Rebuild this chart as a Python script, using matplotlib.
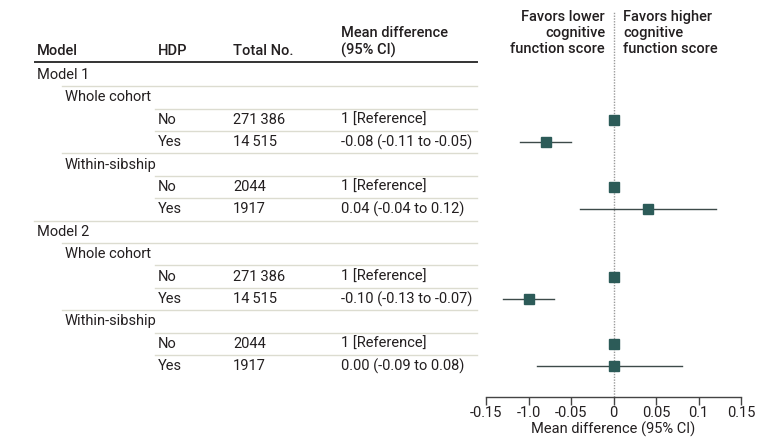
import matplotlib
matplotlib.use("Agg")
import matplotlib.pyplot as plt
from matplotlib import font_manager

names = {f.name for f in font_manager.fontManager.ttflist}
FONT = "Liberation Sans Narrow" if "Liberation Sans Narrow" in names else "Roboto"
plt.rcParams["font.family"] = [FONT, "DejaVu Sans"]

# table rows: (label, indent level, hdp, total, mean diff text)
labels = ["Model 1", "Whole cohort", "", "", "Within-sibship", "", "",
          "Model 2", "Whole cohort", "", "", "Within-sibship", "", ""]
levels = [0, 1, 2, 2, 1, 2, 2, 0, 1, 2, 2, 1, 2, 2]
hdp = ["", "", "No", "Yes", "", "No", "Yes", "", "", "No", "Yes", "", "No", "Yes"]
totals = ["", "", "271\u2009386", "14\u2009515", "", "2044", "1917",
          "", "", "271\u2009386", "14\u2009515", "", "2044", "1917"]
md_text = ["", "", "1 [Reference]", "-0.08 (-0.11 to -0.05)", "", "1 [Reference]",
           "0.04 (-0.04 to 0.12)", "", "", "1 [Reference]", "-0.10 (-0.13 to -0.07)",
           "", "1 [Reference]", "0.00 (-0.09 to 0.08)"]

# forest plot values (row index, estimate, lower, upper); None = reference
pt_rows = [2, 3, 5, 6, 9, 10, 12, 13]
est = [0, -0.08, 0, 0.04, 0, -0.10, 0, 0.00]
lo = [None, -0.11, None, -0.04, None, -0.13, None, -0.09]
hi = [None, -0.05, None, 0.12, None, -0.07, None, 0.08]

ticks = [-0.15, -0.10, -0.05, 0, 0.05, 0.10, 0.15]
tick_labels = ["-0.15", "-1.0", "-0.05", "0", "0.05", "0.1", "0.15"]

W, H = 780, 447
fig = plt.figure(figsize=(W / 100, H / 100), dpi=100)

Y0, DY = 75, 22.4
txt = "#231f20"
sep = "#dcdcd0"
teal = "#2c5b58"
fs = 10.5
hw = "medium"


def fy(p):
    return 1 - p / H


def fx(p):
    return p / W


# table
ax0 = fig.add_axes([0, 0, 1, 1])
ax0.set_xlim(0, W)
ax0.set_ylim(H, 0)
ax0.axis("off")

ax0.text(37, 55, "Model", fontsize=fs, fontweight=hw, color=txt, va="baseline")
ax0.text(158, 55, "HDP", fontsize=fs, fontweight=hw, color=txt, va="baseline")
ax0.text(233, 55, "Total No.", fontsize=fs, fontweight=hw, color=txt, va="baseline")
ax0.text(341, 37, "Mean difference", fontsize=fs, fontweight=hw, color=txt, va="baseline")
ax0.text(341, 55, "(95% CI)", fontsize=fs, fontweight=hw, color=txt, va="baseline")
ax0.plot([35, 477], [62, 62], color="#333333", lw=1.4)

indent_x = [37, 65, 158]
for i in range(len(labels)):
    y = Y0 + DY * i
    if labels[i]:
        ax0.text(indent_x[levels[i]], y, labels[i], fontsize=fs, color=txt, va="center")
    ax0.text(158, y, hdp[i], fontsize=fs, color=txt, va="center")
    ax0.text(233, y, totals[i], fontsize=fs, color=txt, va="center")
    ax0.text(341, y, md_text[i], fontsize=fs, color=txt, va="center")
    if i > 0:
        ax0.plot([indent_x[levels[i]] - 3, 477], [y - DY / 2, y - DY / 2], color=sep, lw=1)

# right header
ax0.text(605, 10, "Favors lower\ncognitive\nfunction score", fontsize=fs, fontweight=hw,
         color=txt, ha="right", va="top", linespacing=1.2)
ax0.text(623, 10, "Favors higher\ncognitive\nfunction score", fontsize=fs, fontweight=hw,
         color=txt, ha="left", va="top", linespacing=1.2)

# forest axes
x_left, x_right = 486, 741
top_p, bot_p = 12, 396.5
ax = fig.add_axes([fx(x_left), fy(bot_p), fx(x_right) - fx(x_left), (bot_p - top_p) / H])
ax.set_xlim(-0.15, 0.15)
ax.set_ylim((bot_p - Y0) / DY, (top_p - Y0) / DY)
ax.patch.set_alpha(0)
for s in ["top", "right", "left"]:
    ax.spines[s].set_visible(False)
ax.spines["bottom"].set_color("#444444")
ax.spines["bottom"].set_linewidth(1)
ax.set_yticks([])
ax.set_xticks(ticks)
ax.set_xticklabels(tick_labels, fontsize=fs, color=txt)
ax.tick_params(axis="x", length=6, width=1, color="#444444", pad=1)
ax.set_xlabel("Mean difference (95% CI)", fontsize=fs, color=txt, labelpad=1)
ax.axvline(0, color="#9a9a9a", lw=1, ls=(0, (1, 1)), zorder=1)

for r, e, l, h in zip(pt_rows, est, lo, hi):
    if l is not None:
        ax.plot([l, h], [r, r], color="#3d4a49", lw=1, zorder=2)
    ax.plot([e], [r], marker="s", ms=6.5, color=teal, mec=teal, zorder=3)

fig.savefig("out.png", dpi=100)
